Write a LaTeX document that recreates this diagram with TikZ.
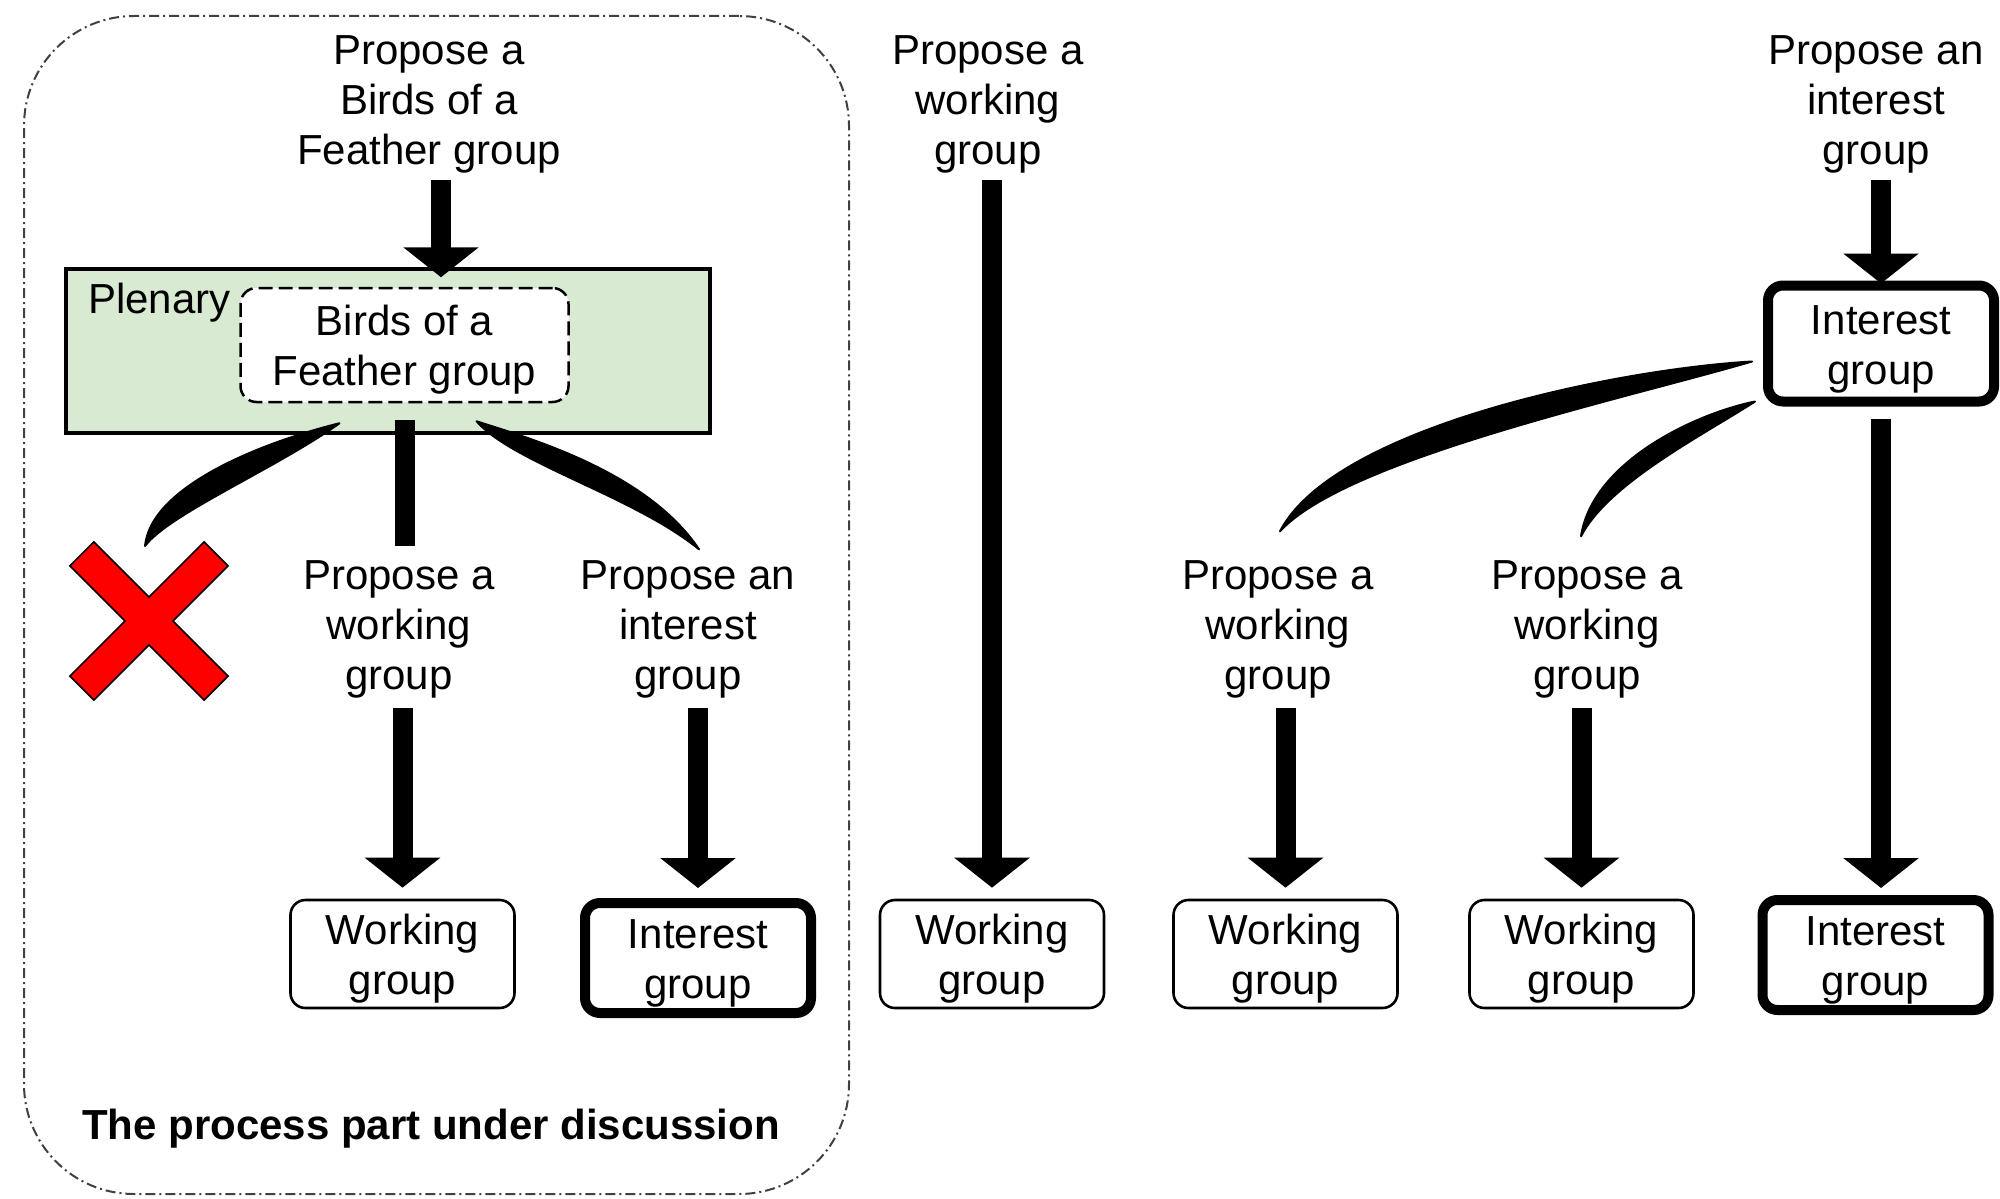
\documentclass[tikz,border=0pt]{standalone}
\usepackage{fontspec}
\setmainfont{Liberation Sans}
\usetikzlibrary{arrows.meta}
\definecolor{plengreen}{HTML}{D9EAD3}
\definecolor{crossred}{HTML}{FF0000}

\begin{document}
\begin{tikzpicture}[x=0.5pt,y=-0.5pt,
  every node/.style={font=\fontsize{21pt}{25pt}\selectfont},
  proptext/.style={align=center,inner sep=3pt},
  wgbox/.style={draw,rounded corners=7.5pt,line width=1.3pt,align=center,minimum width=112pt,minimum height=54pt,inner sep=0pt,text height=45pt,text depth=4.5pt},
  igbox/.style={wgbox,line width=5pt,minimum width=113pt,minimum height=55pt},
  partframe/.style={draw=black!75,line width=1pt,dash pattern=on 5pt off 2pt on 1pt off 2pt,rounded corners=55pt,minimum width=412.5pt,minimum height=589pt},
  plenbox/.style={draw,fill=plengreen,line width=1.75pt,minimum width=322pt,minimum height=82pt},
  bofbox/.style={draw,fill=white,dash pattern=on 7pt off 3pt,line width=1.25pt,rounded corners=8pt,align=center,minimum width=164pt,minimum height=57pt,inner sep=0pt,text height=45pt,text depth=4.5pt},
  bigarrow/.style={line width=10pt,-{Triangle[width=37pt,length=15pt]}},
  bar/.style={line width=10pt},
  swoosh/.style={fill=black,draw=black,line width=1pt,line join=round},
  crossmark/.style={fill=crossred,draw=black,line width=0.8pt,line join=miter},
  caption/.style={font={\fontsize{21pt}{25pt}\selectfont\bfseries}}]

\useasboundingbox (0,0) rectangle (2000,1198);

% the part of the process under discussion
\node[partframe] (part) at (436.5,605) {};
\node[plenbox] (plenary) at (388,351) {};
\node[bofbox] (bof) at (404.5,345) {Birds of a\\Feather group};
\node[anchor=base west] (plenlbl) at (81,313) {Plenary};

\node[proptext] (propbof) at (429,104.5) {Propose a\\Birds of a\\Feather group};
\node[proptext] (propwg) at (988,104.5) {Propose a\\working\\group};
\node[proptext] (propig) at (1876,104.5) {Propose an\\interest\\group};

\node[igbox,minimum height=58pt] (igtop) at (1881,343.5) {Interest\\group};

\node[proptext] (propwg1) at (399,629.5) {Propose a\\working\\group};
\node[proptext] (propig1) at (688,629.5) {Propose an\\interest\\group};
\node[proptext] (propwg2) at (1278,629.5) {Propose a\\working\\group};
\node[proptext] (propwg3) at (1587,629.5) {Propose a\\working\\group};

\node[wgbox] (wg1) at (402.5,954) {Working\\group};
\node[igbox] (ig1) at (698,958) {Interest\\group};
\node[wgbox] (wg2) at (992,954) {Working\\group};
\node[wgbox] (wg3) at (1285.5,954) {Working\\group};
\node[wgbox] (wg4) at (1581.5,954) {Working\\group};
\node[igbox] (ig2) at (1875.5,955) {Interest\\group};

\node[caption,anchor=base] (partlbl) at (431,1139) {The process part under discussion};

% arrows
\coordinate (bofin) at ([xshift=6pt]propbof.south);
\draw[bigarrow,shorten >=-5pt] (bofin) -- (bofin |- plenary.north);
\draw[bigarrow,shorten >=5.5pt] (propwg.south -| wg2.north) -- (wg2.north);
\draw[bigarrow,shorten >=-1.5pt] (propig.south -| igtop.north) -- (igtop.north);
\draw[bigarrow,shorten <=6pt,shorten >=3.5pt] (igtop.south) -- (igtop.south |- ig2.north);
\draw[bigarrow,shorten <=1.5pt,shorten >=5.5pt] (propwg1.south -| wg1.north) -- (wg1.north);
\draw[bigarrow,shorten <=1.5pt,shorten >=5pt] (propig1.south -| ig1.north) -- (ig1.north);
\draw[bigarrow,shorten <=1.5pt,shorten >=5.5pt] (propwg2.south -| wg3.north) -- (wg3.north);
\draw[bigarrow,shorten <=1.5pt,shorten >=5.5pt] (propwg3.south -| wg4.north) -- (wg4.north);

\draw[bar,shorten <=8.5pt,shorten >=4pt] (bof.south) -- (bof.south |- propwg1.north);

% rejected proposal
\coordinate (cross) at (149,621);
\draw[crossmark,shift={(cross)},rotate=45] (-17,-95) -- (17,-95) -- (17,-17) -- (95,-17) -- (95,17) -- (17,17)
  -- (17,95) -- (-17,95) -- (-17,17) -- (-95,17) -- (-95,-17) -- (-17,-17) -- cycle;

% curved strokes
\fill[swoosh] ([shift={(-65,20)}]bof.south) .. controls +(-77,19) and +(6,-60) .. ([shift={(-4,-75)}]cross)
  .. controls +(24,-32) and +(-63,45) .. ([shift={(-65,20)}]bof.south) -- cycle;
\fill[swoosh] ([shift={(72,18)}]bof.south) .. controls +(49,16) and +(-53,-79) .. ([shift={(11,-5)}]propig1.north)
  .. controls +(-65,-53) and +(37,42) .. ([shift={(72,18)}]bof.south) -- cycle;
\fill[swoosh] ([shift={(-11,18)}]igtop.west) .. controls +(-138,8) and +(54,-104) .. ([shift={(2,-23)}]propwg2.north)
  .. controls +(66,-72) and +(-130,38) .. ([shift={(-11,18)}]igtop.west) -- cycle;
\fill[swoosh] ([shift={(-8,-5)}]igtop.south west) .. controls +(-63,13) and +(11,-73) .. ([shift={(-6,-18)}]propwg3.north)
  .. controls +(27,-53) and +(-51,33) .. ([shift={(-8,-5)}]igtop.south west) -- cycle;

\end{tikzpicture}
\end{document}
